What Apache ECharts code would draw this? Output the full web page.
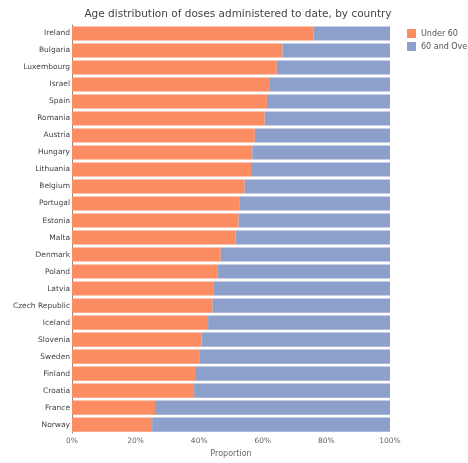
<!DOCTYPE html>
<html><head><meta charset="utf-8">
<script src="https://cdn.jsdelivr.net/npm/echarts@6/dist/echarts.min.js"></script>
<style>html,body{margin:0;padding:0;background:#fff}#c{width:468px;height:463px}</style>
</head><body><div id="c"></div>
<script>
const countries = ["Ireland","Bulgaria","Luxembourg","Israel","Spain","Romania","Austria","Hungary","Lithuania","Belgium","Portugal","Estonia","Malta","Denmark","Poland","Latvia","Czech Republic","Iceland","Slovenia","Sweden","Finland","Croatia","France","Norway"];
const under60 = [0.759,0.662,0.644,0.620,0.613,0.606,0.575,0.567,0.563,0.543,0.526,0.524,0.515,0.468,0.457,0.444,0.442,0.428,0.407,0.400,0.387,0.384,0.261,0.252];
const over60 = under60.map(v => +(1 - v).toFixed(3));
const xTicks = ["0%","20%","40%","60%","80%","100%"];

const chart = echarts.init(document.getElementById('c'), null, {renderer:'canvas'});
const font = 'DejaVu Sans';
chart.setOption({
  animation:false,
  textStyle:{fontFamily:font},
  title:{text:'Age distribution of doses administered to date, by country', left:233, top:4, textAlign:'center',
    textStyle:{fontSize:10.5, fontWeight:'normal', color:'#444', fontFamily:font}},
  legend:{orient:'vertical', left:402, top:24, itemWidth:9, itemHeight:9, itemGap:4,
    textStyle:{fontSize:8, color:'#555', fontFamily:font}, icon:'rect',
    data:['Under 60','60 and Over']},
  grid:{left:72, right:78, top:25, bottom:29, containLabel:false},
  xAxis:{type:'value', min:0, max:1, interval:0.2,
    name:'Proportion', nameLocation:'middle', nameGap:15,
    nameTextStyle:{fontSize:8, color:'#666', fontFamily:font},
    axisLine:{show:false}, axisTick:{show:false}, splitLine:{show:false},
    axisLabel:{fontSize:7.5, color:'#666', margin:4, fontFamily:font,
      formatter:v => xTicks[Math.round(v/0.2)]}},
  yAxis:{type:'category', data:countries, inverse:true,
    axisLine:{show:true, lineStyle:{color:'#888', width:1}}, axisTick:{show:false},
    axisLabel:{fontSize:7.5, color:'#444', margin:2, fontFamily:font}},
  series:[
    {name:'Under 60', type:'bar', stack:'a', data:under60, barCategoryGap:'17%', itemStyle:{color:'#fc8d62'}},
    {name:'60 and Over', type:'bar', stack:'a', data:over60, barCategoryGap:'17%', itemStyle:{color:'#8da0cb'}}
  ]
});
</script></body></html>
